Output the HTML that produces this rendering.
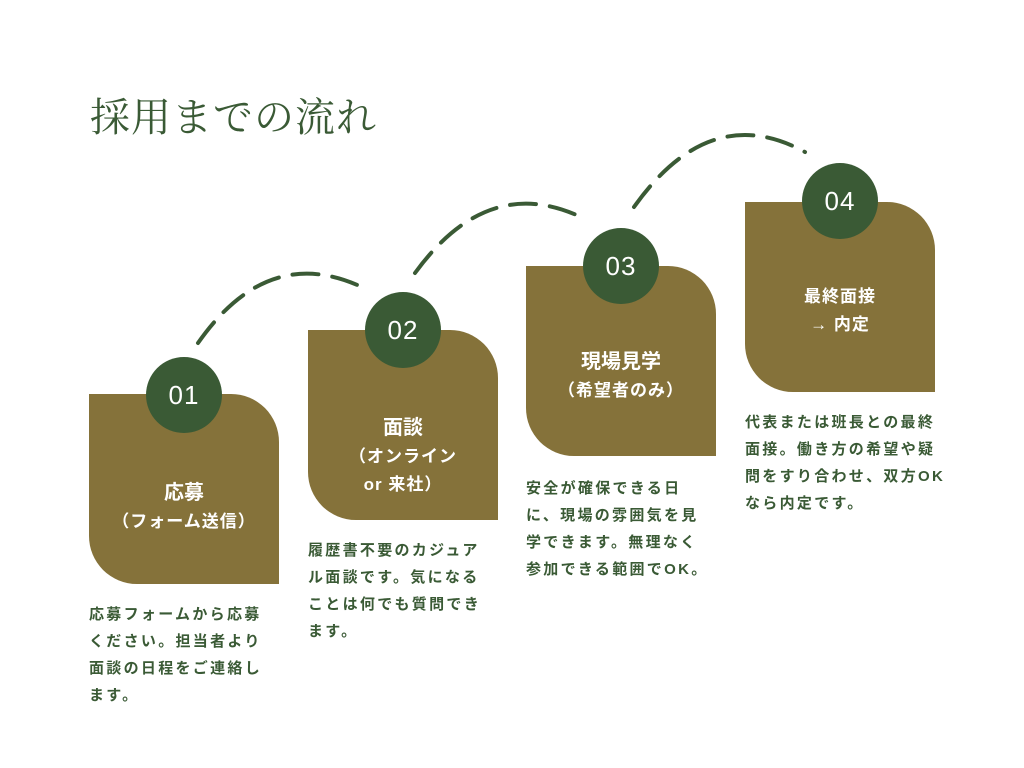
<!DOCTYPE html>
<html><head><meta charset="utf-8"><style>
body{margin:0;width:1024px;height:768px;background:#fff;position:relative;overflow:hidden;font-family:"Liberation Sans","Noto Sans CJK JP",sans-serif}
.t{position:absolute;left:90px;top:86px;font-family:"Liberation Serif","Noto Serif CJK SC",serif;font-size:40px;color:#3a5a35;letter-spacing:1px}
.b{position:absolute;width:190px;height:190px;background:#85723a;border-radius:0 48px 0 48px}
.c{position:absolute;width:76px;height:76px;border-radius:50%;background:#3a5a35;color:#fff;font-size:26px;text-align:center;line-height:76px;letter-spacing:1px}
.l{position:absolute;width:190px;text-align:center;color:#fff;font-weight:bold}
.l .a{font-size:20px;line-height:30px}
.l .s{font-size:17px;line-height:28px;letter-spacing:1px}
.d{position:absolute;width:200px;color:#3a5a35;font-weight:bold;font-size:15px;line-height:27px;letter-spacing:2.3px;white-space:nowrap}
</style></head><body>
<div class="t">採用までの流れ</div>
<svg width="1024" height="768" style="position:absolute;left:0;top:0">
<g fill="none" stroke="#3a5a35" stroke-width="4" stroke-dasharray="26,14" stroke-linecap="round">
<path d="M198 343 Q270 240 368 290"/>
<path d="M415 273 Q490 170 587 220"/>
<path d="M634 207 Q710 100 805 152"/>
</g></svg>
<div class="b" style="left:89px;top:394px"></div>
<div class="b" style="left:308px;top:330px"></div>
<div class="b" style="left:526px;top:266px"></div>
<div class="b" style="left:745px;top:202px"></div>
<div class="c" style="left:146px;top:357px">01</div>
<div class="c" style="left:365px;top:292px">02</div>
<div class="c" style="left:583px;top:228px">03</div>
<div class="c" style="left:802px;top:163px">04</div>
<div class="l" style="left:89px;top:478px"><div class="a">応募</div><div class="s">（フォーム送信）</div></div>
<div class="l" style="left:308px;top:413px"><div class="a">面談</div><div class="s">（オンライン<br>or 来社）</div></div>
<div class="l" style="left:526px;top:347px"><div class="a">現場見学</div><div class="s">（希望者のみ）</div></div>
<div class="l" style="left:745px;top:283px"><div class="s">最終面接<br>→ 内定</div></div>
<div class="d" style="left:89px;top:601px">応募フォームから応募<br>ください。担当者より<br>面談の日程をご連絡し<br>ます。</div>
<div class="d" style="left:308px;top:537px">履歴書不要のカジュア<br>ル面談です。気になる<br>ことは何でも質問でき<br>ます。</div>
<div class="d" style="left:526px;top:475px">安全が確保できる日<br>に、現場の雰囲気を見<br>学できます。無理なく<br>参加できる範囲でOK。</div>
<div class="d" style="left:745px;top:409px">代表または班長との最終<br>面接。働き方の希望や疑<br>問をすり合わせ、双方OK<br>なら内定です。</div>
</body></html>
